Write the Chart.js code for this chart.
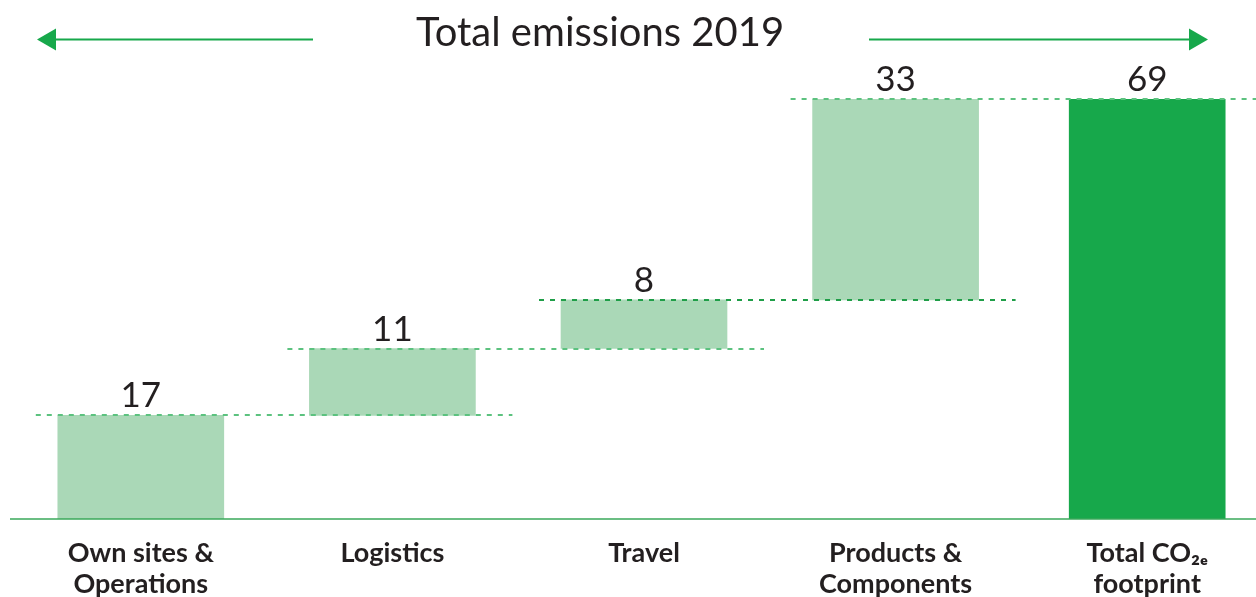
<!DOCTYPE html>
<html>
<head>
<meta charset="utf-8">
<title>Total emissions 2019</title>
<script src="https://cdn.jsdelivr.net/npm/chart.js@4/dist/chart.umd.min.js"></script>
<style>
    html, body { margin: 0; padding: 0; background: #fff; overflow: hidden; }
    #wrap { width: 1273px; height: 619px; position: relative; }
</style>
</head>
<body>
<div id="wrap"><canvas id="emissionsChart"></canvas></div>
<script>
// ===== DATA =====
const categories = [
    ['Own sites &', 'Operations'],
    ['Logistics'],
    ['Travel'],
    ['Products &', 'Components'],
    ['Total CO₂ₑ', 'footprint']
];
const stepValues = [17, 11, 8, 33];
const totalValue = 69;
const chartTitle = 'Total emissions 2019';

// ===== COLOURS =====
const lightGreen = '#aad8b7';
const darkGreen = '#17a84b';
const textColor = '#231f20';

// build floating bars from the steps
let running = 0;
const stepBars = stepValues.map(v => {
    const bar = [running, running + v];
    running += v;
    return bar;
});
stepBars.push(null);
const totalBars = categories.map((c, i) => i === categories.length - 1 ? [0, totalValue] : null);

// ===== TITLE + ARROWS =====
const titlePlugin = {
    id: 'titleArrows',
    afterDraw(chart) {
        const ctx = chart.ctx;
        ctx.save();
        ctx.font = '40px Lato';
        ctx.fillStyle = textColor;
        ctx.textAlign = 'center';
        ctx.textBaseline = 'alphabetic';
        ctx.fillText(chartTitle, 600, 46);

        ctx.strokeStyle = darkGreen;
        ctx.fillStyle = darkGreen;
        ctx.lineWidth = 2;
        const y = 39.5;
        // left arrow
        ctx.beginPath();
        ctx.moveTo(54, y);
        ctx.lineTo(313, y);
        ctx.stroke();
        ctx.beginPath();
        ctx.moveTo(37, y);
        ctx.lineTo(56, y - 11);
        ctx.lineTo(56, y + 11);
        ctx.closePath();
        ctx.fill();
        // right arrow
        ctx.beginPath();
        ctx.moveTo(869, y);
        ctx.lineTo(1191, y);
        ctx.stroke();
        ctx.beginPath();
        ctx.moveTo(1208, y);
        ctx.lineTo(1189, y - 11);
        ctx.lineTo(1189, y + 11);
        ctx.closePath();
        ctx.fill();
        ctx.restore();
    }
};

// ===== BASELINE, DASHED CONNECTORS, VALUE LABELS =====
const waterfallPlugin = {
    id: 'waterfallExtras',
    afterDatasetsDraw(chart) {
        const ctx = chart.ctx;
        const yScale = chart.scales.y;
        const steps = chart.getDatasetMeta(0).data;
        const total = chart.getDatasetMeta(1).data;
        const bars = steps.slice(0, stepValues.length).concat([total[categories.length - 1]]);
        ctx.save();

        // baseline
        const y0 = yScale.getPixelForValue(0);
        ctx.strokeStyle = '#3aa85a';
        ctx.lineWidth = 1.5;
        ctx.beginPath();
        ctx.moveTo(10, y0);
        ctx.lineTo(chart.width, y0);
        ctx.stroke();

        // dashed connectors at the top of every step
        ctx.setLineDash([5, 6]);
        ctx.lineWidth = 2;
        stepBars.forEach((b, i) => {
            if (!b) return;
            const y = Math.round(yScale.getPixelForValue(b[1]));
            const cur = bars[i];
            const next = bars[i + 1];
            const x1 = cur.x - cur.width / 2 - 22;
            const x2 = i === stepValues.length - 1 ? chart.width : next.x + next.width / 2 + 37;
            ctx.strokeStyle = i === 2 ? '#1f9e48' : '#5cc27f';
            ctx.beginPath();
            ctx.moveTo(x1, y);
            ctx.lineTo(x2, y);
            ctx.stroke();
        });
        ctx.setLineDash([]);

        // value labels
        ctx.font = '35px Lato';
        ctx.fillStyle = textColor;
        ctx.textAlign = 'center';
        ctx.textBaseline = 'alphabetic';
        const labels = stepValues.concat([totalValue]);
        labels.forEach((v, i) => {
            const top = i < stepValues.length ? stepBars[i][1] : totalValue;
            ctx.fillText(String(v), bars[i].x, yScale.getPixelForValue(top) - 8);
        });
        ctx.restore();
    }
};

// ===== RENDER CHART =====
const ctx = document.getElementById('emissionsChart').getContext('2d');
new Chart(ctx, {
    type: 'bar',
    data: {
        labels: categories,
        datasets: [
            {
                label: 'Emissions',
                data: stepBars,
                backgroundColor: lightGreen,
                barThickness: 166,
                grouped: false,
                borderSkipped: false
            },
            {
                label: 'Total',
                data: totalBars,
                backgroundColor: darkGreen,
                barThickness: 156,
                grouped: false,
                borderSkipped: false
            }
        ]
    },
    options: {
        responsive: true,
        maintainAspectRatio: false,
        animation: false,
        layout: { padding: { top: 99, left: 15, right: 0, bottom: 0 } },
        plugins: {
            legend: { display: false },
            tooltip: { enabled: false }
        },
        scales: {
            x: {
                grid: { display: false, drawTicks: false },
                border: { display: false },
                ticks: {
                    color: textColor,
                    padding: 19,
                    maxRotation: 0,
                    autoSkip: false,
                    font: { family: 'Lato', size: 27, weight: 'bold', lineHeight: 1.15 }
                }
            },
            y: {
                display: false,
                min: 0,
                max: totalValue
            }
        }
    },
    plugins: [titlePlugin, waterfallPlugin]
});
</script>
</body>
</html>
